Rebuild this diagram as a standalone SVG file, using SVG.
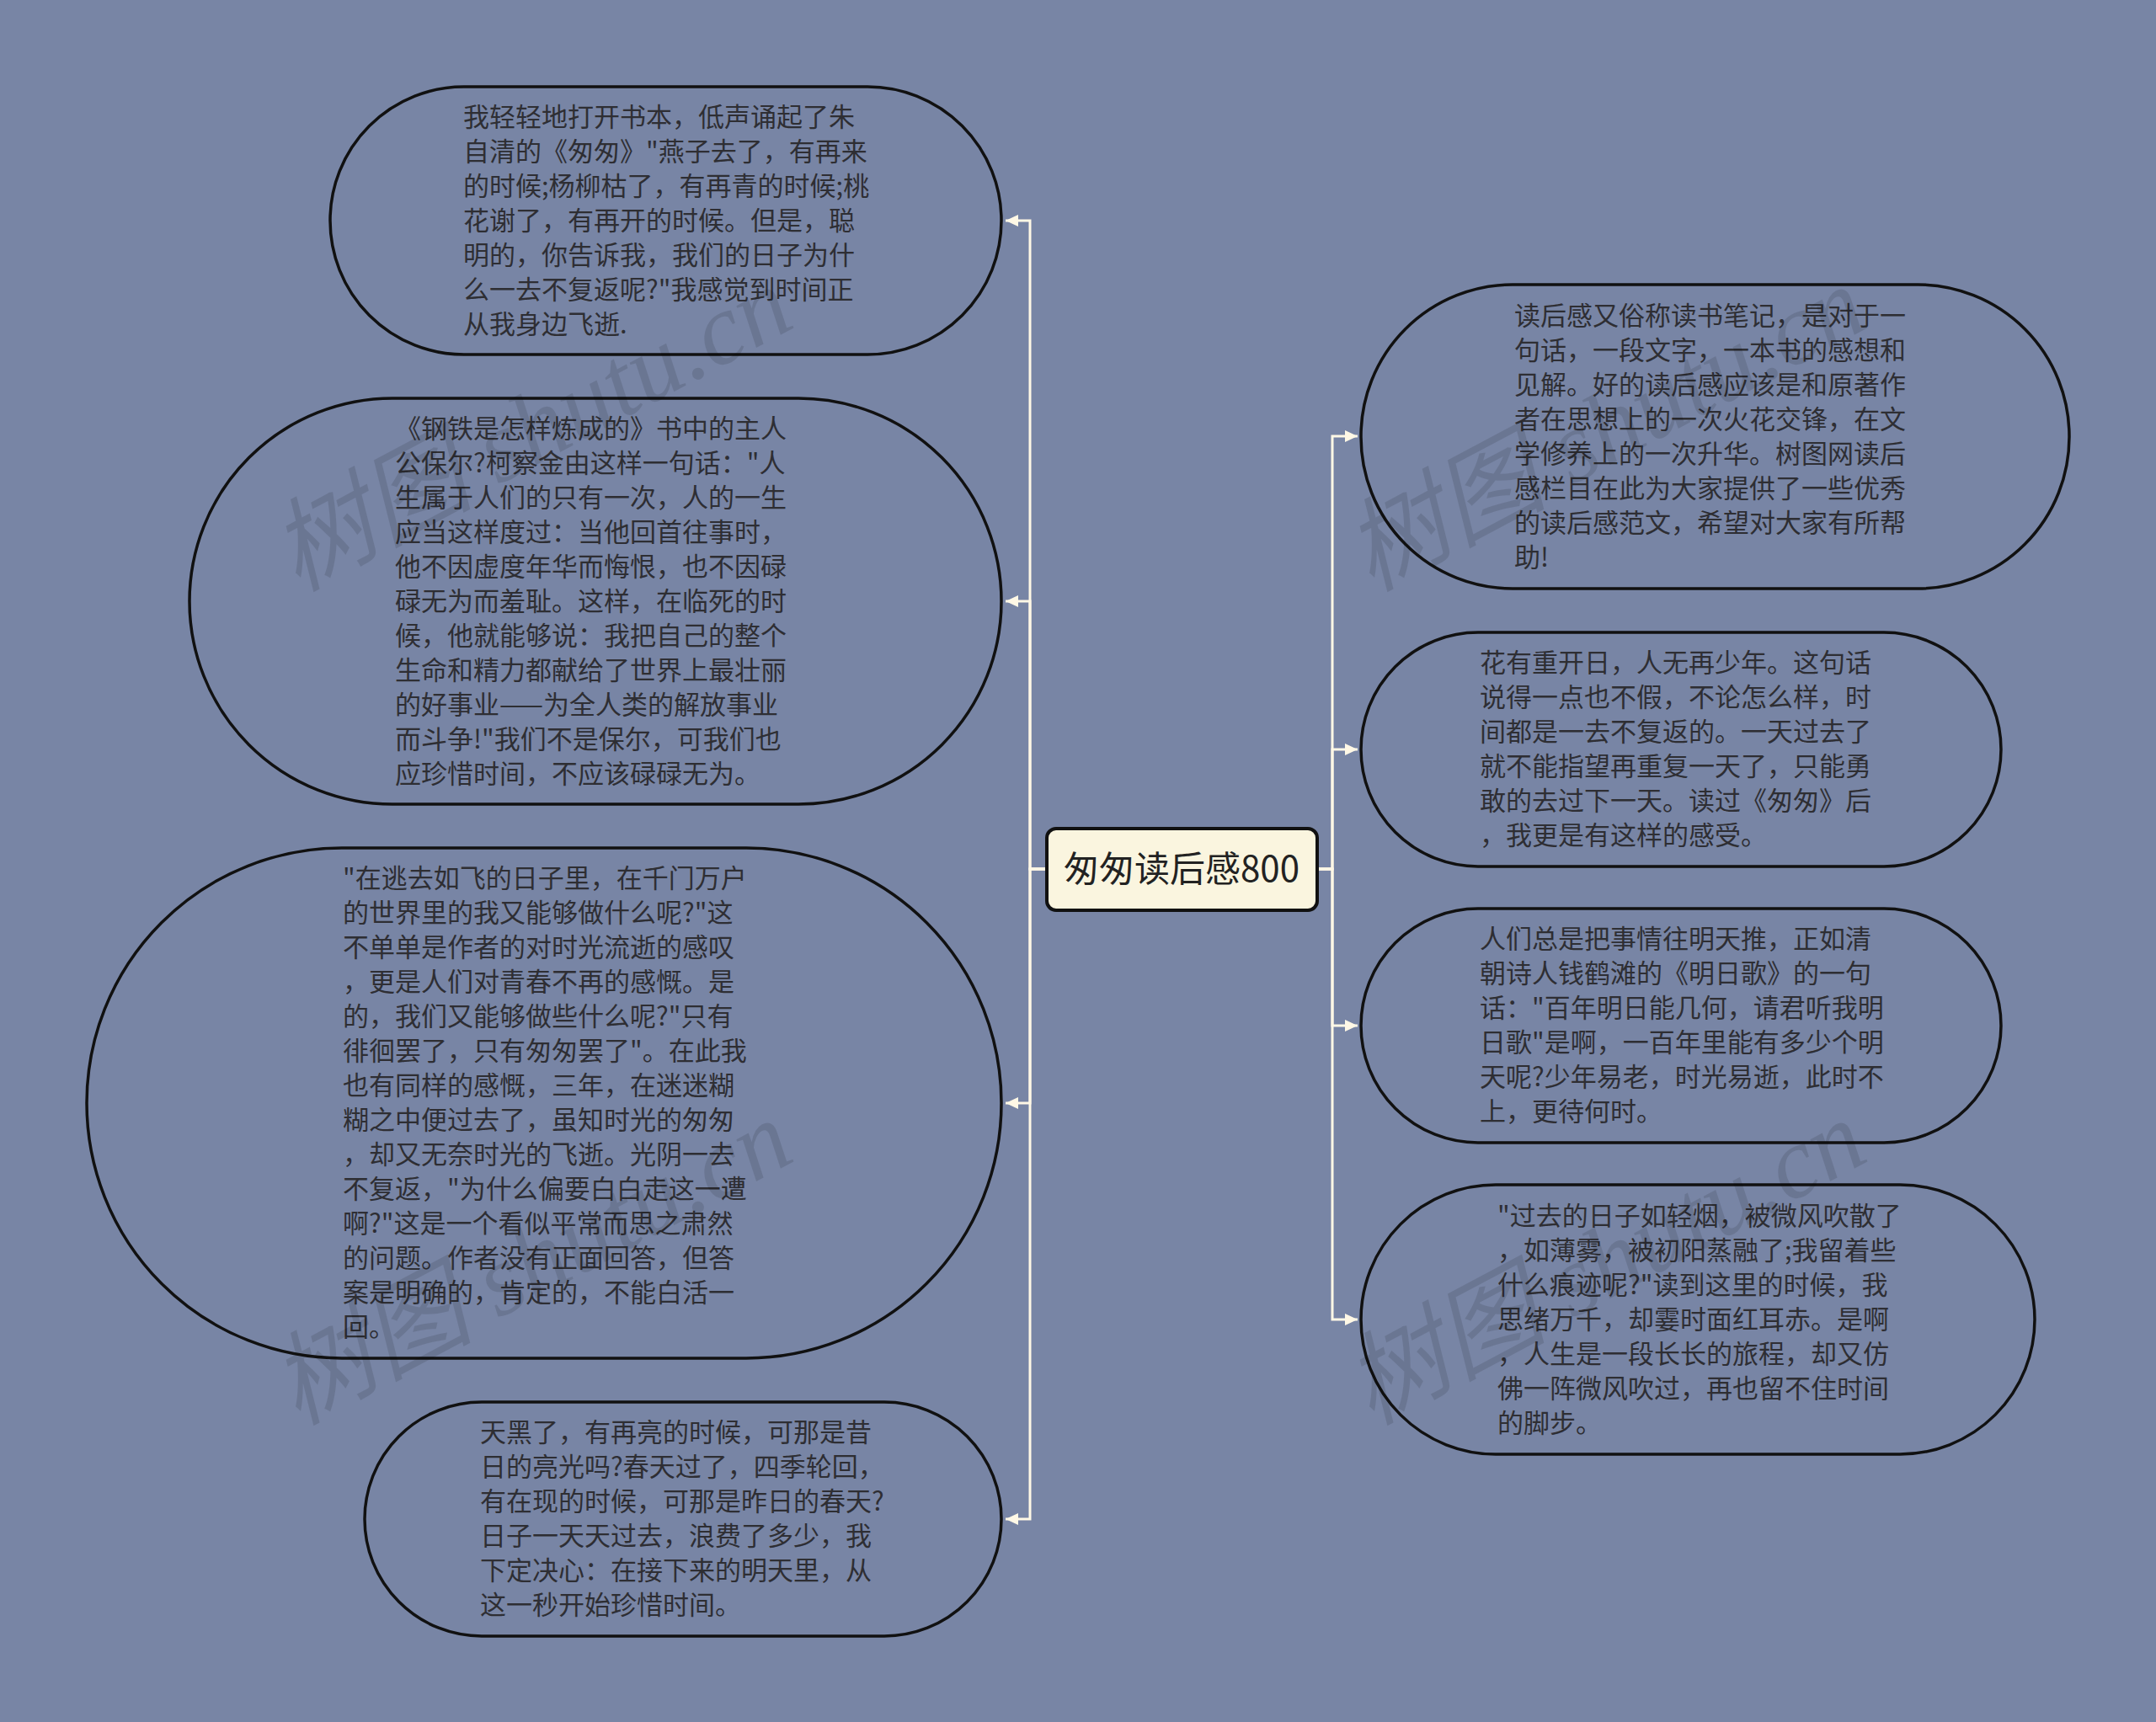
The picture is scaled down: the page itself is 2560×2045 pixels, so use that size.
<svg xmlns="http://www.w3.org/2000/svg" width="2560" height="2045" viewBox="0 0 2560 2045">
<style>
.bg{fill:#7885a5}
.node{fill:#7885a5;stroke:#111;stroke-width:3.5}
.root{fill:#faf5df;stroke:#111;stroke-width:4}
.t{font-family:"Noto Sans CJK SC","Noto Sans",sans-serif;font-size:31px;fill:#2e2e33}
.rt{font-family:"Noto Sans CJK SC","Noto Sans",sans-serif;font-size:42px;fill:#222;text-anchor:middle}
.edge{fill:none;stroke:#fff8e6;stroke-width:3}
.wm{font-family:"Liberation Serif","Noto Sans CJK SC",serif;font-size:120px;font-style:italic;fill:#000;fill-opacity:0.11;text-anchor:middle}
</style>
<defs>
<marker id="ah" markerUnits="userSpaceOnUse" markerWidth="16" markerHeight="14" refX="15" refY="7" orient="auto">
<path d="M0,0 L15,7 L0,14 z" fill="#fff8e6"/>
</marker>
</defs>
<rect class="bg" x="0" y="0" width="2560" height="2045"/>
<g id="connectors">
<path class="edge" d="M1243 1032 H1223 V262 H1194" marker-end="url(#ah)"/>
<path class="edge" d="M1243 1032 H1223 V714 H1194" marker-end="url(#ah)"/>
<path class="edge" d="M1243 1032 H1223 V1310 H1194" marker-end="url(#ah)"/>
<path class="edge" d="M1243 1032 H1223 V1804 H1194" marker-end="url(#ah)"/>
<path class="edge" d="M1564 1032 H1582 V518 H1612" marker-end="url(#ah)"/>
<path class="edge" d="M1564 1032 H1582 V890 H1612" marker-end="url(#ah)"/>
<path class="edge" d="M1564 1032 H1582 V1218 H1612" marker-end="url(#ah)"/>
<path class="edge" d="M1564 1032 H1582 V1567 H1612" marker-end="url(#ah)"/>
</g>
<g id="root">
<rect class="root" x="1243" y="984" width="321" height="97" rx="11"/>
<text class="rt" x="1403" y="1047">匆匆读后感800</text>
</g>
<g id="left1">
<rect class="node" x="392" y="103" width="797" height="318" rx="159"/>
<text class="t"><tspan x="550" y="150">我轻轻地打开书本，低声诵起了朱</tspan><tspan x="550" y="191">自清的《匆匆》"燕子去了，有再来</tspan><tspan x="550" y="232">的时候;杨柳枯了，有再青的时候;桃</tspan><tspan x="550" y="273">花谢了，有再开的时候。但是，聪</tspan><tspan x="550" y="314">明的，你告诉我，我们的日子为什</tspan><tspan x="550" y="355">么一去不复返呢?"我感觉到时间正</tspan><tspan x="550" y="396">从我身边飞逝.</tspan></text>
</g>
<g id="left2">
<rect class="node" x="225" y="473" width="964" height="482" rx="241"/>
<text class="t"><tspan x="469" y="520">《钢铁是怎样炼成的》书中的主人</tspan><tspan x="469" y="561">公保尔?柯察金由这样一句话："人</tspan><tspan x="469" y="602">生属于人们的只有一次，人的一生</tspan><tspan x="469" y="643">应当这样度过：当他回首往事时，</tspan><tspan x="469" y="684">他不因虚度年华而悔恨，也不因碌</tspan><tspan x="469" y="725">碌无为而羞耻。这样，在临死的时</tspan><tspan x="469" y="766">候，他就能够说：我把自己的整个</tspan><tspan x="469" y="807">生命和精力都献给了世界上最壮丽</tspan><tspan x="469" y="848">的好事业——为全人类的解放事业</tspan><tspan x="469" y="889">而斗争!"我们不是保尔，可我们也</tspan><tspan x="469" y="930">应珍惜时间，不应该碌碌无为。</tspan></text>
</g>
<g id="left3">
<rect class="node" x="103" y="1007" width="1086" height="606" rx="303"/>
<text class="t"><tspan x="407" y="1054">"在逃去如飞的日子里，在千门万户</tspan><tspan x="407" y="1095">的世界里的我又能够做什么呢?"这</tspan><tspan x="407" y="1136">不单单是作者的对时光流逝的感叹</tspan><tspan x="407" y="1177">，更是人们对青春不再的感慨。是</tspan><tspan x="407" y="1218">的，我们又能够做些什么呢?"只有</tspan><tspan x="407" y="1259">徘徊罢了，只有匆匆罢了"。在此我</tspan><tspan x="407" y="1300">也有同样的感慨，三年，在迷迷糊</tspan><tspan x="407" y="1341">糊之中便过去了，虽知时光的匆匆</tspan><tspan x="407" y="1382">，却又无奈时光的飞逝。光阴一去</tspan><tspan x="407" y="1423">不复返，"为什么偏要白白走这一遭</tspan><tspan x="407" y="1464">啊?"这是一个看似平常而思之肃然</tspan><tspan x="407" y="1505">的问题。作者没有正面回答，但答</tspan><tspan x="407" y="1546">案是明确的，肯定的，不能白活一</tspan><tspan x="407" y="1587">回。</tspan></text>
</g>
<g id="left4">
<rect class="node" x="433" y="1665" width="756" height="278" rx="139"/>
<text class="t"><tspan x="570" y="1712">天黑了，有再亮的时候，可那是昔</tspan><tspan x="570" y="1753">日的亮光吗?春天过了，四季轮回，</tspan><tspan x="570" y="1794">有在现的时候，可那是昨日的春天?</tspan><tspan x="570" y="1835">日子一天天过去，浪费了多少，我</tspan><tspan x="570" y="1876">下定决心：在接下来的明天里，从</tspan><tspan x="570" y="1917">这一秒开始珍惜时间。</tspan></text>
</g>
<g id="right1">
<rect class="node" x="1616" y="338" width="841" height="361" rx="180"/>
<text class="t"><tspan x="1798" y="386">读后感又俗称读书笔记，是对于一</tspan><tspan x="1798" y="427">句话，一段文字，一本书的感想和</tspan><tspan x="1798" y="468">见解。好的读后感应该是和原著作</tspan><tspan x="1798" y="509">者在思想上的一次火花交锋，在文</tspan><tspan x="1798" y="550">学修养上的一次升华。树图网读后</tspan><tspan x="1798" y="591">感栏目在此为大家提供了一些优秀</tspan><tspan x="1798" y="632">的读后感范文，希望对大家有所帮</tspan><tspan x="1798" y="673">助!</tspan></text>
</g>
<g id="right2">
<rect class="node" x="1616" y="751" width="760" height="278" rx="139"/>
<text class="t"><tspan x="1757" y="798">花有重开日，人无再少年。这句话</tspan><tspan x="1757" y="839">说得一点也不假，不论怎么样，时</tspan><tspan x="1757" y="880">间都是一去不复返的。一天过去了</tspan><tspan x="1757" y="921">就不能指望再重复一天了，只能勇</tspan><tspan x="1757" y="962">敢的去过下一天。读过《匆匆》后</tspan><tspan x="1757" y="1003">，我更是有这样的感受。</tspan></text>
</g>
<g id="right3">
<rect class="node" x="1616" y="1079" width="760" height="278" rx="139"/>
<text class="t"><tspan x="1757" y="1126">人们总是把事情往明天推，正如清</tspan><tspan x="1757" y="1167">朝诗人钱鹤滩的《明日歌》的一句</tspan><tspan x="1757" y="1208">话："百年明日能几何，请君听我明</tspan><tspan x="1757" y="1249">日歌"是啊，一百年里能有多少个明</tspan><tspan x="1757" y="1290">天呢?少年易老，时光易逝，此时不</tspan><tspan x="1757" y="1331">上，更待何时。</tspan></text>
</g>
<g id="right4">
<rect class="node" x="1616" y="1407" width="800" height="320" rx="160"/>
<text class="t"><tspan x="1778" y="1455">"过去的日子如轻烟，被微风吹散了</tspan><tspan x="1778" y="1496">，如薄雾，被初阳蒸融了;我留着些</tspan><tspan x="1778" y="1537">什么痕迹呢?"读到这里的时候，我</tspan><tspan x="1778" y="1578">思绪万千，却霎时面红耳赤。是啊</tspan><tspan x="1778" y="1619">，人生是一段长长的旅程，却又仿</tspan><tspan x="1778" y="1660">佛一阵微风吹过，再也留不住时间</tspan><tspan x="1778" y="1701">的脚步。</tspan></text>
</g>
<g id="watermarks">
<text class="wm" transform="translate(650,545) rotate(-28)">树图 shutu.cn</text>
<text class="wm" transform="translate(650,1535) rotate(-28)">树图 shutu.cn</text>
<text class="wm" transform="translate(1925,545) rotate(-28)">树图 shutu.cn</text>
<text class="wm" transform="translate(1925,1535) rotate(-28)">树图 shutu.cn</text>
</g>
</svg>
